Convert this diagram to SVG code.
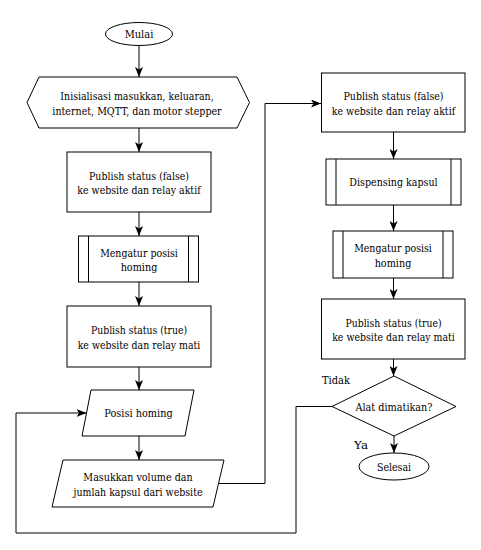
<svg xmlns="http://www.w3.org/2000/svg" width="481" height="550" viewBox="0 0 481 550">
<defs>
<style>
.s{fill:#fff;stroke:#000;stroke-width:1}
.l{fill:none;stroke:#000;stroke-width:1}
text{font-family:"DejaVu Serif",serif;font-size:11px;fill:#000;text-anchor:middle}
</style>
<marker id="a" viewBox="0 0 10 8" refX="10" refY="4" markerWidth="10" markerHeight="8" markerUnits="userSpaceOnUse" orient="auto">
<path d="M0,0 L10,4 L0,8 L2.5,4 Z" fill="#000"/>
</marker>
</defs>
<rect width="481" height="550" fill="#fff"/>
<g id="connectors">
<path class="l" d="M139,46 V77" marker-end="url(#a)"/>
<path class="l" d="M139,128 V152" marker-end="url(#a)"/>
<path class="l" d="M139,212 V236" marker-end="url(#a)"/>
<path class="l" d="M139,282 V306" marker-end="url(#a)"/>
<path class="l" d="M139,367 V390" marker-end="url(#a)"/>
<path class="l" d="M139,436 V460" marker-end="url(#a)"/>
<path class="l" d="M218.5,483.5 H265 V103.5 H321" marker-end="url(#a)"/>
<path class="l" d="M393.5,132 V159" marker-end="url(#a)"/>
<path class="l" d="M393.5,205 V231" marker-end="url(#a)"/>
<path class="l" d="M393.5,278 V299" marker-end="url(#a)"/>
<path class="l" d="M393.5,359 V376" marker-end="url(#a)"/>
<path class="l" d="M394,436 V453" marker-end="url(#a)"/>
<path class="l" d="M332,406.5 H296 V533 H16 V413 H86.5" marker-end="url(#a)"/>
<text x="322" y="384" style="text-anchor:start" textLength="28" lengthAdjust="spacingAndGlyphs">Tidak</text>
<text x="354" y="449" style="text-anchor:start" textLength="14" lengthAdjust="spacingAndGlyphs">Ya</text>
</g>
<g id="mulai">
<ellipse class="s" cx="139" cy="34" rx="33.5" ry="11.5"/>
<text x="139" y="38" textLength="28.7" lengthAdjust="spacingAndGlyphs">Mulai</text>
</g>
<g id="inisialisasi">
<polygon class="s" points="27,102.5 39,77 237,77 249.5,102.5 237,128 39,128"/>
<text x="137" y="100" textLength="153.3" lengthAdjust="spacingAndGlyphs">Inisialisasi masukkan, keluaran,</text>
<text x="137" y="114.5" textLength="169.3" lengthAdjust="spacingAndGlyphs">internet, MQTT, dan motor stepper</text>
</g>
<g id="publish-false-1">
<rect class="s" x="67" y="152" width="144" height="60"/>
<text x="139" y="179.5" textLength="100" lengthAdjust="spacingAndGlyphs">Publish status (false)</text>
<text x="139" y="194" textLength="123.3" lengthAdjust="spacingAndGlyphs">ke website dan relay aktif</text>
</g>
<g id="homing-1">
<rect class="s" x="78.5" y="236" width="120" height="46"/>
<line class="l" x1="88.5" y1="236" x2="88.5" y2="282"/>
<line class="l" x1="188.5" y1="236" x2="188.5" y2="282"/>
<text x="139" y="256.5" textLength="77.7" lengthAdjust="spacingAndGlyphs">Mengatur posisi</text>
<text x="139" y="271" textLength="36.7" lengthAdjust="spacingAndGlyphs">homing</text>
</g>
<g id="publish-true-1">
<rect class="s" x="67" y="306" width="144" height="61"/>
<text x="139" y="334" textLength="96" lengthAdjust="spacingAndGlyphs">Publish status (true)</text>
<text x="139" y="348.5" textLength="122.6" lengthAdjust="spacingAndGlyphs">ke website dan relay mati</text>
</g>
<g id="posisi-homing">
<polygon class="s" points="91,390 194,390 185,436 82,436"/>
<text x="138.5" y="417" textLength="68.4" lengthAdjust="spacingAndGlyphs">Posisi homing</text>
</g>
<g id="masukkan">
<polygon class="s" points="63,460 224,460 213,507 52,507"/>
<text x="138" y="481" textLength="109.3" lengthAdjust="spacingAndGlyphs">Masukkan volume dan</text>
<text x="138" y="495.5" textLength="129" lengthAdjust="spacingAndGlyphs">jumlah kapsul dari website</text>
</g>
<g id="publish-false-2">
<rect class="s" x="321.5" y="73" width="143.5" height="59"/>
<text x="393.5" y="100" textLength="100" lengthAdjust="spacingAndGlyphs">Publish status (false)</text>
<text x="393.5" y="114.5" textLength="123.3" lengthAdjust="spacingAndGlyphs">ke website dan relay aktif</text>
</g>
<g id="dispensing">
<rect class="s" x="326" y="159" width="135" height="46"/>
<line class="l" x1="336" y1="159" x2="336" y2="205"/>
<line class="l" x1="451" y1="159" x2="451" y2="205"/>
<text x="393.5" y="186" textLength="88.3" lengthAdjust="spacingAndGlyphs">Dispensing kapsul</text>
</g>
<g id="homing-2">
<rect class="s" x="333" y="231" width="120" height="47"/>
<line class="l" x1="343" y1="231" x2="343" y2="278"/>
<line class="l" x1="443" y1="231" x2="443" y2="278"/>
<text x="393" y="252" textLength="77.7" lengthAdjust="spacingAndGlyphs">Mengatur posisi</text>
<text x="393" y="266.5" textLength="36.7" lengthAdjust="spacingAndGlyphs">homing</text>
</g>
<g id="publish-true-2">
<rect class="s" x="321.5" y="299" width="143.5" height="60"/>
<text x="393.5" y="326.5" textLength="96" lengthAdjust="spacingAndGlyphs">Publish status (true)</text>
<text x="393.5" y="341" textLength="122.6" lengthAdjust="spacingAndGlyphs">ke website dan relay mati</text>
</g>
<g id="decision">
<polygon class="s" points="394,376 456,406.5 394,436 332,406.5"/>
<text x="394" y="410.5" textLength="77" lengthAdjust="spacingAndGlyphs">Alat dimatikan?</text>
</g>
<g id="selesai">
<ellipse class="s" cx="394" cy="466.5" rx="35" ry="13.5"/>
<text x="394" y="470.5" textLength="34" lengthAdjust="spacingAndGlyphs">Selesai</text>
</g>
</svg>
